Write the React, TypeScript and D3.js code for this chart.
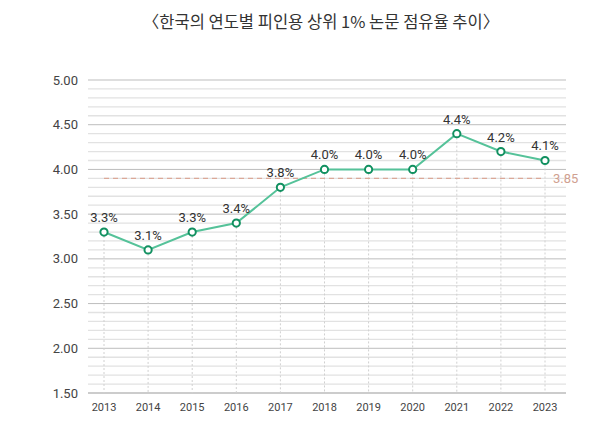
import React from "react";
import * as d3 from "d3";

const years = ["2013","2014","2015","2016","2017","2018","2019","2020","2021","2022","2023"];
const shares = [3.3, 3.1, 3.3, 3.4, 3.8, 4.0, 4.0, 4.0, 4.4, 4.2, 4.1];
const shareLabels = ["3.3%","3.1%","3.3%","3.4%","3.8%","4.0%","4.0%","4.0%","4.4%","4.2%","4.1%"];
const majorTicks = [1.5, 2.0, 2.5, 3.0, 3.5, 4.0, 4.5, 5.0];
const refLineValue = 3.9;
const refLabel = "3.85";
const title = "〈한국의 연도별 피인용 상위 1% 논문 점유율 추이〉";

const W = 589, H = 429;
const left = 88, right = 566, top = 80, bottom = 393;
const numFont = "Roboto, 'Noto Sans', sans-serif";

export default function App() {
  const x = d3.scalePoint<string>().domain(years).range([104, 545]);
  const y = d3.scaleLinear().domain([1.5, 5]).range([bottom, top]);
  const minor = d3.range(15, 51).map((v) => v / 10).filter((v) => Math.round(v * 10) % 5 !== 0);
  const line = d3.line<number>().x((_, i) => x(years[i])!).y((d) => y(d));
  return (
    <svg width={W} height={H} style={{ position: "absolute", left: 0, top: 0, background: "#fff" }}>
      <text x={321} y={28} textAnchor="middle" fontFamily="'Noto Sans CJK KR', sans-serif" fontWeight={400} fontSize={16.5} fill="#333">{title}</text>
      {minor.map((v) => (
        <line key={"m" + v} x1={left} x2={right} y1={y(v)} y2={y(v)} stroke="#e2e2e2" strokeWidth={1.3} />
      ))}
      {majorTicks.map((v) => (
        <g key={"M" + v}>
          <line x1={left} x2={right} y1={y(v)} y2={y(v)} stroke={v === 1.5 ? "#999" : "#bdbdbd"} strokeWidth={1} />
          <text x={78} y={y(v)} dy="0.35em" textAnchor="end" fontFamily={numFont} fontSize={13} fill="#444">{v.toFixed(2)}</text>
        </g>
      ))}
      {years.map((yr, i) => (
        <g key={yr}>
          <line x1={x(yr)} x2={x(yr)} y1={y(shares[i])} y2={bottom} stroke="#d0d0d0" strokeDasharray="2,2" strokeWidth={1} />
          <text x={x(yr)} y={411} textAnchor="middle" fontFamily={numFont} fontSize={11} fill="#444">{yr}</text>
        </g>
      ))}
      <line x1={x(years[0])} x2={x(years[years.length - 1])} y1={y(refLineValue)} y2={y(refLineValue)} stroke="#dba898" strokeDasharray="5,4" strokeWidth={1.3} />
      <text x={553} y={y(refLineValue)} dy="0.35em" fontFamily={numFont} fontSize={13} fill="#d0a090">{refLabel}</text>
      <path d={line(shares) || ""} fill="none" stroke="#55c299" strokeWidth={2} />
      {shares.map((v, i) => (
        <g key={"p" + i}>
          <circle cx={x(years[i])} cy={y(v)} r={3.6} fill="#fff" stroke="#119060" strokeWidth={2} />
          <text x={x(years[i])} y={y(v) - 10} textAnchor="middle" fontFamily={numFont} fontSize={13} fill="#333">{shareLabels[i]}</text>
        </g>
      ))}
    </svg>
  );
}
